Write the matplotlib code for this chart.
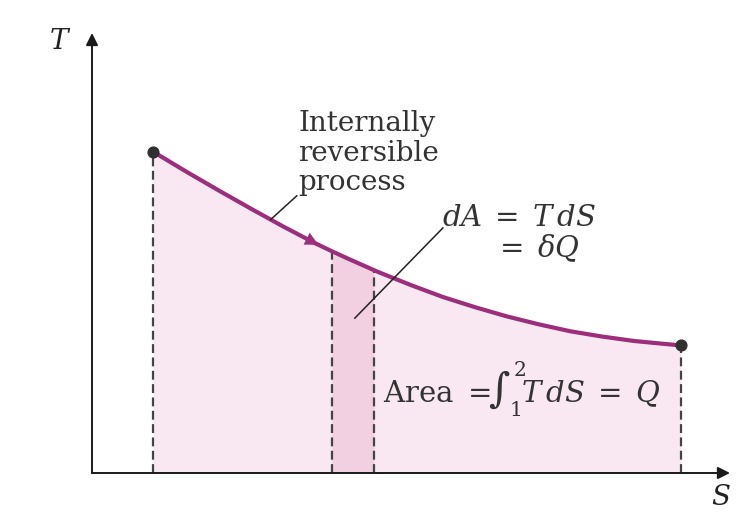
import numpy as np
import matplotlib
matplotlib.use('Agg')
import matplotlib.pyplot as plt

# Process curve (entropy S, temperature T; arbitrary units)
S = np.array([0.96, 1.5, 2.0, 2.5, 3.0, 3.5, 3.76, 4.0, 4.42, 4.5, 5.0, 5.5,
              6.0, 6.5, 7.0, 7.5, 8.0, 8.5, 9.0, 9.23])
T = np.array([7.30, 6.83, 6.41, 6.00, 5.60, 5.22, 5.04, 4.88, 4.61, 4.56, 4.27, 4.00,
              3.77, 3.56, 3.38, 3.22, 3.10, 3.00, 2.93, 2.90])
state_S = [0.96, 9.23]          # states 1 and 2
strip_S = [3.76, 4.42]          # the differential strip dS
arrow_S = [3.05, 3.55]          # direction arrow on the process line

plt.rcParams['font.family'] = ['DejaVu Serif']
plt.rcParams['mathtext.fontset'] = 'dejavuserif'

fig = plt.figure(figsize=(7.47, 5.12), dpi=100)
fig.patch.set_facecolor('white')
ax = fig.add_axes([92/747, (512-473)/512, (730-92)/747, (473-33)/512])
ax.set_xlim(0, 10)
ax.set_ylim(0, 10)
ax.axis('off')

curve_col = '#9c2e7c'
txt_col = '#333333'

# areas
ax.fill_between(S, T, 0, color='#f9e8f1', lw=0, zorder=1)
mask = (S >= strip_S[0]) & (S <= strip_S[1])
ax.fill_between(S, T, 0, where=mask, color='#f2d0e1', lw=0, zorder=1.5)

# dashed verticals
for s in state_S + strip_S:
    ax.plot([s, s], [0, np.interp(s, S, T)], color='#444444', lw=1.6,
            ls=(0, (4, 2)), zorder=2)

# process line
ax.plot(S, T, color=curve_col, lw=3, solid_capstyle='round',
        solid_joinstyle='round', zorder=3)
ax.annotate('', xy=(arrow_S[1], np.interp(arrow_S[1], S, T)),
            xytext=(arrow_S[0], np.interp(arrow_S[0], S, T)),
            arrowprops=dict(arrowstyle='-|>', color=curve_col, lw=0,
                            mutation_scale=24, shrinkA=0, shrinkB=0), zorder=4)
ax.scatter(state_S, np.interp(state_S, S, T), s=60, color='#303030', zorder=5)

# axes with arrows
for end in [(0, 10), (10, 0)]:
    ax.annotate('', xy=end, xytext=(0, 0),
                arrowprops=dict(arrowstyle='-|>', color='#1a1a1a', lw=1.4,
                                mutation_scale=18, shrinkA=0, shrinkB=0),
                annotation_clip=False)
ax.text(-0.50, 9.80, r'$T$', fontsize=20, ha='center', va='center', color='#222')
ax.text(9.86, -0.55, r'$S$', fontsize=20, ha='center', va='center', color='#222',
        clip_on=False)

# labels
ax.text(3.23, 8.24, 'Internally\nreversible\nprocess', fontsize=20, ha='left',
        va='top', linespacing=1.1, color=txt_col)
ax.plot([2.80, 3.21], [5.76, 6.30], color='#222', lw=1.1, zorder=6)

ax.text(5.49, 5.61, r'$dA\;=\;T\,dS$', fontsize=21, ha='left', va='baseline', color=txt_col)
ax.text(6.30, 4.91, r'$=\;\delta Q$', fontsize=21, ha='left', va='baseline', color=txt_col)
ax.plot([4.12, 5.50], [3.52, 5.57], color='#222', lw=1.1, zorder=6)

ax.text(4.56, 1.61, r'Area $=\!\!\int_1^2\!T\,dS\;=\;Q$', fontsize=21, ha='left',
        va='baseline', color=txt_col, zorder=6)

fig.savefig('out.png', dpi=100)
